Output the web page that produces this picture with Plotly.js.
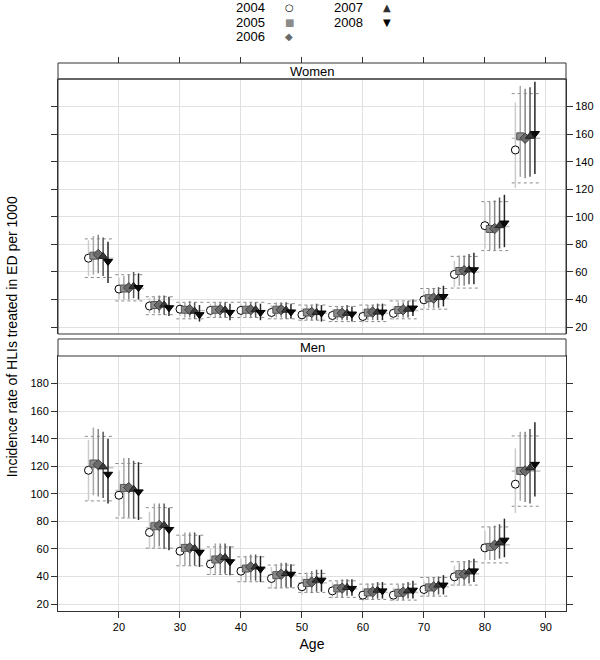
<!DOCTYPE html>
<html>
<head>
<meta charset="utf-8">
<script src="https://cdn.plot.ly/plotly-3.0.1.min.js"></script>
<style>
  html, body { margin: 0; padding: 0; background: #fff; }
  #chart { width: 600px; height: 660px; }
</style>
</head>
<body>
<div id="chart"></div>
<script>
// age groups (start of each 5 year band)
var ages = [15, 20, 25, 30, 35, 40, 45, 50, 55, 60, 65, 70, 75, 80, 85];
var years = ['2004', '2005', '2006', '2007', '2008'];

// Women: estimates and 95% CI per year
var women04   = [70.0, 47.6, 35.3, 33.0, 32.1, 32.1, 30.6, 28.9, 28.4, 27.7, 30.0, 39.8, 58.2, 93.6, 148.5];
var women04Lo = [57, 40, 30, 28, 27, 27, 26, 24, 24, 23, 25, 33, 49, 77, 121];
var women04Hi = [83, 56, 41, 38, 37, 37, 36, 34, 33, 33, 35, 46, 68, 111, 183];
var women05   = [71.8, 48.0, 36.0, 32.6, 32.6, 32.6, 32.6, 30.6, 30.0, 30.5, 32.4, 41.0, 60.7, 91.2, 158.4];
var women05Lo = [58, 40, 30, 27, 27, 27, 27, 25, 25, 25, 27, 34, 50, 76, 129];
var women05Hi = [86, 57, 42, 38, 38, 38, 38, 36, 35, 36, 38, 48, 72, 111, 195];
var women06   = [72.7, 48.5, 36.0, 32.6, 32.6, 32.6, 32.6, 30.6, 30.0, 30.9, 32.6, 41.0, 61.0, 91.5, 157.0];
var women06Lo = [59, 40, 30, 27, 27, 27, 27, 25, 25, 25, 27, 34, 50, 76, 128];
var women06Hi = [87, 58, 43, 39, 38, 38, 38, 36, 35, 36, 38, 48, 72, 112, 193];
var women07   = [71.3, 49.6, 36.0, 31.5, 32.4, 32.6, 32.3, 30.6, 30.0, 30.9, 33.0, 41.5, 61.6, 93.6, 158.4];
var women07Lo = [57, 41, 29, 26, 27, 27, 26, 25, 25, 25, 27, 34, 51, 77, 129];
var women07Hi = [85, 60, 43, 38, 38, 38, 38, 37, 36, 37, 39, 49, 73, 114, 194];
var women08   = [67.6, 48.7, 34.0, 29.0, 30.6, 30.6, 31.0, 30.2, 29.5, 30.9, 33.8, 42.2, 61.6, 95.5, 160.4];
var women08Lo = [52, 40, 28, 24, 25, 25, 26, 24, 24, 25, 28, 35, 51, 78, 131];
var women08Hi = [82, 59, 42, 36, 37, 37, 37, 36, 35, 37, 40, 50, 74, 116, 198];
// Women: pooled estimate and its CI (dotted)
var womenPool   = [70, 48, 35.5, 32, 32, 32, 31.5, 30, 29.5, 30, 32, 41, 60, 93, 157];
var womenPoolLo = [56, 39, 29, 26, 27, 27, 26, 25, 24, 24, 26, 33, 48.3, 75.5, 124.6];
var womenPoolHi = [84, 58, 42, 38, 38, 38, 37, 36, 35, 36, 39, 48, 71.3, 111, 189.4];

// Men: estimates and 95% CI per year
var men04   = [117.1, 99.0, 72.0, 58.4, 49.0, 43.9, 38.6, 32.6, 29.6, 26.5, 26.5, 30.6, 39.8, 60.8, 107.0];
var men04Lo = [95, 84, 60, 48, 41, 36, 31, 27, 24, 22, 22, 25, 33, 52, 86];
var men04Hi = [139, 117, 87, 70, 60, 53, 47, 40, 36, 32, 32, 37, 48, 73, 133];
var men05   = [122.0, 104.3, 76.5, 60.8, 52.4, 45.8, 41.0, 35.4, 31.4, 28.5, 28.2, 32.1, 41.7, 61.5, 116.6];
var men05Lo = [99, 82, 61, 48, 42, 36, 31, 28, 25, 23, 23, 26, 34, 52, 95];
var men05Hi = [148, 126, 93, 72, 64, 55, 49, 43, 37, 35, 34, 39, 50, 76, 145];
var men06   = [121.2, 104.5, 77.0, 60.8, 53.0, 47.0, 41.7, 36.0, 31.6, 28.9, 28.7, 32.5, 41.7, 62.8, 116.6];
var men06Lo = [98, 83, 62, 48, 42, 37, 32, 28, 25, 23, 23, 26, 34, 52, 94];
var men06Hi = [147, 126, 93, 72, 64, 56, 50, 44, 38, 35, 35, 39, 51, 77, 145];
var men07   = [119.5, 103.3, 77.2, 60.4, 53.8, 47.0, 42.2, 37.4, 32.1, 30.1, 29.6, 33.8, 43.4, 64.4, 118.8];
var men07Lo = [97, 82, 60, 48, 42, 37, 32, 29, 26, 24, 24, 27, 35, 53, 93];
var men07Hi = [145, 124, 93, 72, 64, 56, 50, 45, 38, 36, 36, 40, 52, 78, 147];
var men08   = [114.2, 101.4, 74.1, 57.5, 50.7, 45.4, 41.7, 37.4, 31.4, 29.6, 30.1, 33.8, 44.1, 66.4, 121.4];
var men08Lo = [93, 81, 59, 47, 41, 36, 32, 29, 26, 24, 24, 27, 36, 54, 98];
var men08Hi = [140, 123, 90, 70, 62, 55, 49, 45, 38, 36, 37, 41, 53, 82, 152];
// Men: pooled estimate and its CI (dotted)
var menPool   = [119, 102.5, 75.5, 59.5, 52, 45.8, 41, 35.5, 31, 28.5, 28.5, 32.5, 42, 63, 116.5];
var menPoolLo = [94.9, 82.5, 60.6, 47.8, 41.5, 36.2, 31.8, 28.5, 24.9, 23.4, 22.9, 25.8, 33.8, 49.9, 91];
var menPoolHi = [141.7, 122, 90, 70, 61.5, 54.3, 48.3, 42.2, 36.9, 34.5, 34.5, 39.3, 50.7, 76, 142];

var yTicks = [20, 40, 60, 80, 100, 120, 140, 160, 180];
var xTicks = [20, 30, 40, 50, 60, 70, 80, 90];

// styles per year
var barColors = ['#cccccc', '#a8a8a8', '#868686', '#555555', '#262626'];
var markers = [
  {symbol: 'circle', size: 8, color: '#ffffff', line: {color: '#000000', width: 1}},
  {symbol: 'square', size: 7, color: '#8c8c8c', line: {color: '#555555', width: 1}},
  {symbol: 'diamond', size: 8, color: '#6a6a6a', line: {color: '#404040', width: 1}},
  {symbol: 'triangle-up', size: 8, color: '#3a3a3a', line: {color: '#222222', width: 1}},
  {symbol: 'triangle-down', size: 8, color: '#0a0a0a', line: {color: '#000000', width: 1}}
];
var step = 0.8;

function yearTrace(est, lo, hi, k, xa, ya) {
  return {
    type: 'scatter', mode: 'markers', name: years[k],
    x: ages.map(function (a) { return a + k * step; }),
    y: est, xaxis: xa, yaxis: ya,
    error_y: {
      type: 'data', symmetric: false,
      array: hi.map(function (h, i) { return h - est[i]; }),
      arrayminus: lo.map(function (l, i) { return est[i] - l; }),
      width: 0, thickness: 1.5, color: barColors[k]
    },
    marker: markers[k],
    showlegend: false, hoverinfo: 'x+y'
  };
}

function segTrace(vals, xa, ya, dash, color, w) {
  var x = [], y = [];
  ages.forEach(function (a, i) {
    x.push(a - 0.6, a + 4.1, null);
    y.push(vals[i], vals[i], null);
  });
  return {type: 'scatter', mode: 'lines', x: x, y: y, xaxis: xa, yaxis: ya,
          line: {color: color, width: w, dash: dash}, showlegend: false, hoverinfo: 'skip'};
}

var data = [
  segTrace(womenPoolHi, 'x2', 'y2', 'dot', '#8a8a8a', 1),
  segTrace(womenPoolLo, 'x2', 'y2', 'dot', '#8a8a8a', 1),
  segTrace(womenPool, 'x2', 'y2', 'solid', '#c4c4c4', 1.5),
  segTrace(menPoolHi, 'x', 'y', 'dot', '#8a8a8a', 1),
  segTrace(menPoolLo, 'x', 'y', 'dot', '#8a8a8a', 1),
  segTrace(menPool, 'x', 'y', 'solid', '#c4c4c4', 1.5),
  yearTrace(women04, women04Lo, women04Hi, 0, 'x2', 'y2'),
  yearTrace(women05, women05Lo, women05Hi, 1, 'x2', 'y2'),
  yearTrace(women06, women06Lo, women06Hi, 2, 'x2', 'y2'),
  yearTrace(women07, women07Lo, women07Hi, 3, 'x2', 'y2'),
  yearTrace(women08, women08Lo, women08Hi, 4, 'x2', 'y2'),
  yearTrace(men04, men04Lo, men04Hi, 0, 'x', 'y'),
  yearTrace(men05, men05Lo, men05Hi, 1, 'x', 'y'),
  yearTrace(men06, men06Lo, men06Hi, 2, 'x', 'y'),
  yearTrace(men07, men07Lo, men07Hi, 3, 'x', 'y'),
  yearTrace(men08, men08Lo, men08Hi, 4, 'x', 'y')
];

// panel geometry (paper fractions)
var lowTop = 0.4653, menStripTop = 0.4964, upBottom = 0.5055, upTop = 0.9708;
var frame = '#333333';
var grid = '#e0e0e0';
var tickFont = {family: 'Liberation Sans, Arial, sans-serif', size: 11, color: '#000'};

var axisBase = {
  range: [10, 93.3], tickvals: xTicks, showgrid: true, gridcolor: grid,
  zeroline: false, ticks: 'outside', ticklen: 6, tickcolor: frame, tickfont: tickFont
};

var layout = {
  width: 600, height: 660,
  margin: {l: 58, r: 34, t: 63, b: 49},
  paper_bgcolor: '#fff', plot_bgcolor: '#fff',
  font: {family: 'Liberation Sans, Arial, sans-serif', color: '#000'},
  showlegend: false,
  xaxis: Object.assign({}, axisBase, {
    domain: [0, 1], anchor: 'y', showline: true, linecolor: frame, mirror: true,
    title: {text: 'Age', font: {size: 14}, standoff: 6}
  }),
  xaxis2: Object.assign({}, axisBase, {
    domain: [0, 1], anchor: 'free', position: 1, side: 'top', matches: 'x',
    showticklabels: false, showline: false
  }),
  yaxis: {
    domain: [0, lowTop], range: [15, 200], tickvals: yTicks, side: 'left',
    showgrid: true, gridcolor: grid, zeroline: false, ticks: 'outside', ticklen: 6,
    tickcolor: frame, tickfont: tickFont, showline: true, linecolor: frame, mirror: 'ticks'
  },
  yaxis2: {
    domain: [upBottom, upTop], range: [15, 200], tickvals: yTicks, side: 'right', anchor: 'x2',
    showgrid: true, gridcolor: grid, zeroline: false, ticks: 'outside', ticklen: 6,
    tickcolor: frame, tickfont: tickFont, showline: true, linecolor: frame, mirror: 'ticks'
  },
  shapes: [
    {type: 'rect', xref: 'paper', yref: 'paper', x0: 0, x1: 1, y0: lowTop, y1: menStripTop,
     line: {color: frame, width: 1}, fillcolor: '#ffffff', layer: 'above'},
    {type: 'rect', xref: 'paper', yref: 'paper', x0: 0, x1: 1, y0: upTop, y1: 1,
     line: {color: frame, width: 1}, fillcolor: '#ffffff', layer: 'above'},
    {type: 'rect', xref: 'paper', yref: 'paper', x0: 0, x1: 1, y0: upBottom, y1: upTop,
     line: {color: frame, width: 1}, fillcolor: 'rgba(0,0,0,0)', layer: 'above'}
  ],
  annotations: [
    {text: 'Women', xref: 'paper', yref: 'paper', x: 0.5, y: (upTop + 1) / 2,
     showarrow: false, font: {size: 13}, xanchor: 'center', yanchor: 'middle'},
    {text: 'Men', xref: 'paper', yref: 'paper', x: 0.5, y: (lowTop + menStripTop) / 2,
     showarrow: false, font: {size: 13}, xanchor: 'center', yanchor: 'middle'},
    {text: 'Incidence rate of HLIs treated in ED per 1000', xref: 'paper', yref: 'paper',
     x: -0.09, y: 0.5, textangle: -90, showarrow: false, font: {size: 14},
     xanchor: 'center', yanchor: 'middle'}
  ]
};

// key at the top: year label followed by its symbol
var keyText = ['2004', '2005', '2006', '2007', '2008'];
var keyGlyph = ['\u25CB', '\u25A0', '\u25C6', '\u25B2', '\u25BC'];
var keyColor = ['#000000', '#8c8c8c', '#6a6a6a', '#2e2e2e', '#000000'];
var keyCol = [0, 0, 0, 1, 1];
var keyRow = [0, 1, 2, 0, 1];
var colText = [235, 333], colSym = [289, 387];
keyText.forEach(function (t, i) {
  var ypx = 8 + keyRow[i] * 14;
  var yp = 1 + (63 - ypx) / 548;
  layout.annotations.push({text: t, xref: 'paper', yref: 'paper',
    x: (colText[keyCol[i]] - 58) / 508, y: yp, xanchor: 'left', yanchor: 'middle',
    showarrow: false, borderpad: 0, font: {size: 13}});
  layout.annotations.push({text: keyGlyph[i], xref: 'paper', yref: 'paper',
    x: (colSym[keyCol[i]] - 58) / 508, y: yp, xanchor: 'center', yanchor: 'middle',
    showarrow: false, borderpad: 0, font: {family: 'DejaVu Sans', size: 10, color: keyColor[i]}});
});

Plotly.newPlot('chart', data, layout, {displayModeBar: false, staticPlot: true});
</script>
</body>
</html>
